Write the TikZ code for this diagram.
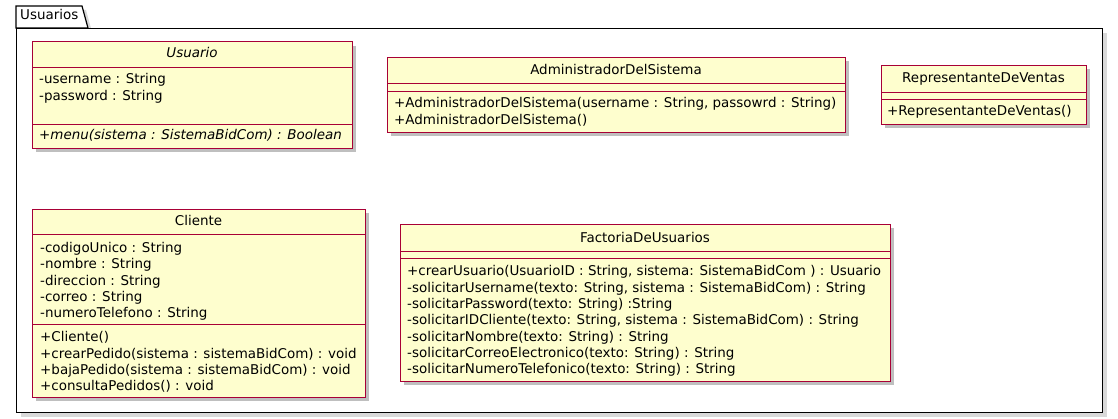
\documentclass[tikz,border=0pt]{standalone}
\usepackage{fontspec}
\setmainfont{DejaVu Sans}
\usetikzlibrary{positioning,shadows}
\definecolor{umlfill}{HTML}{FEFECE}
\definecolor{umlborder}{HTML}{A80036}

\begin{document}
\begin{tikzpicture}[
x = 1pt, y = -1pt,
every node/.style = {
	font = \fontsize{13.45}{16.3}\selectfont,
	inner sep = 0pt
},
package/.style = {
	draw,
	fill = white,
	line width = 1.2pt,
	anchor = north west,
	drop shadow = {shadow xshift = 4pt, shadow yshift = -4pt, fill = black, opacity = .15}
},
class/.style = {
	draw = umlborder,
	fill = umlfill,
	line width = .9pt,
	anchor = north west,
	drop shadow = {shadow xshift = 4pt, shadow yshift = -4pt, fill = black, opacity = .25}
},
sep/.style = {
	draw = umlborder,
	line width = .9pt
},
title/.style = {
	anchor = base
},
% base of a multi-line node = baseline of its last line
members/.style = {
	anchor = base west,
	align = left
}
]

\useasboundingbox (0,0) rectangle (1118,419);

% package
\draw [package] (16,28) -- (16,6) -- (82,6) -- (88,28) -- cycle;
\node (usuarios) [package, minimum width = 1086pt, minimum height = 384pt] at (16,28) {};
\node (usuarios_label) [anchor = base west] at (20,20) {Usuarios};

% Usuario
\node (usuario) [class, minimum width = 320pt, minimum height = 106.5pt] at (32,41.5) {};
\draw [sep] (usuario.west |- 0,67) -- (usuario.east |- 0,67);
\draw [sep] (usuario.west |- 0,124) -- (usuario.east |- 0,124);
\node (usuario_title) [title] at (192,58) {\itshape Usuario};
\node (usuario_attrs) [members] at (39,100.3) {-username : String\\-password : String};
\node (usuario_ops) [members] at (39,140) {\itshape +menu(sistema : SistemaBidCom) : Boolean};

% AdministradorDelSistema
\node (admin) [class, minimum width = 458pt, minimum height = 75pt] at (387,57) {};
\draw [sep] (admin.west |- 0,83) -- (admin.east |- 0,83);
\draw [sep] (admin.west |- 0,91) -- (admin.east |- 0,91);
\node (admin_title) [title] at (616,75) {AdministradorDelSistema};
\node (admin_ops) [members] at (394,124.3) {+AdministradorDelSistema(username : String, passowrd : String)\\+AdministradorDelSistema()};

% RepresentanteDeVentas
\node (rep) [class, minimum width = 205pt, minimum height = 59pt] at (881,65) {};
\draw [sep] (rep.west |- 0,92) -- (rep.east |- 0,92);
\draw [sep] (rep.west |- 0,99) -- (rep.east |- 0,99);
\node (rep_title) [title] at (983.5,82.5) {RepresentanteDeVentas};
\node (rep_ops) [members] at (887,116) {+RepresentanteDeVentas()};

% Cliente
\node (cliente) [class, minimum width = 333pt, minimum height = 188pt] at (32,209) {};
\draw [sep] (cliente.west |- 0,234) -- (cliente.east |- 0,234);
\draw [sep] (cliente.west |- 0,324) -- (cliente.east |- 0,324);
\node (cliente_title) [title] at (198.5,226) {Cliente};
\node (cliente_attrs) [members] at (40,317.9) {-codigoUnico : String\\-nombre : String\\-direccion : String\\-correo : String\\-numeroTelefono : String};
\node (cliente_ops) [members] at (40,390.6) {+Cliente()\\+crearPedido(sistema : sistemaBidCom) : void\\+bajaPedido(sistema : sistemaBidCom) : void\\+consultaPedidos() : void};

% FactoriaDeUsuarios
\node (factoria) [class, minimum width = 490pt, minimum height = 157pt] at (400,224) {};
\draw [sep] (factoria.west |- 0,251) -- (factoria.east |- 0,251);
\draw [sep] (factoria.west |- 0,258) -- (factoria.east |- 0,258);
\node (factoria_title) [title] at (645,243) {FactoriaDeUsuarios};
\node (factoria_ops) [members] at (407,373.8) {+crearUsuario(UsuarioID : String, sistema: SistemaBidCom ) : Usuario\\-solicitarUsername(texto: String, sistema : SistemaBidCom) : String\\-solicitarPassword(texto: String) :String\\-solicitarIDCliente(texto: String, sistema : SistemaBidCom) : String\\-solicitarNombre(texto: String) : String\\-solicitarCorreoElectronico(texto: String) : String\\-solicitarNumeroTelefonico(texto: String) : String};

\end{tikzpicture}
\end{document}
